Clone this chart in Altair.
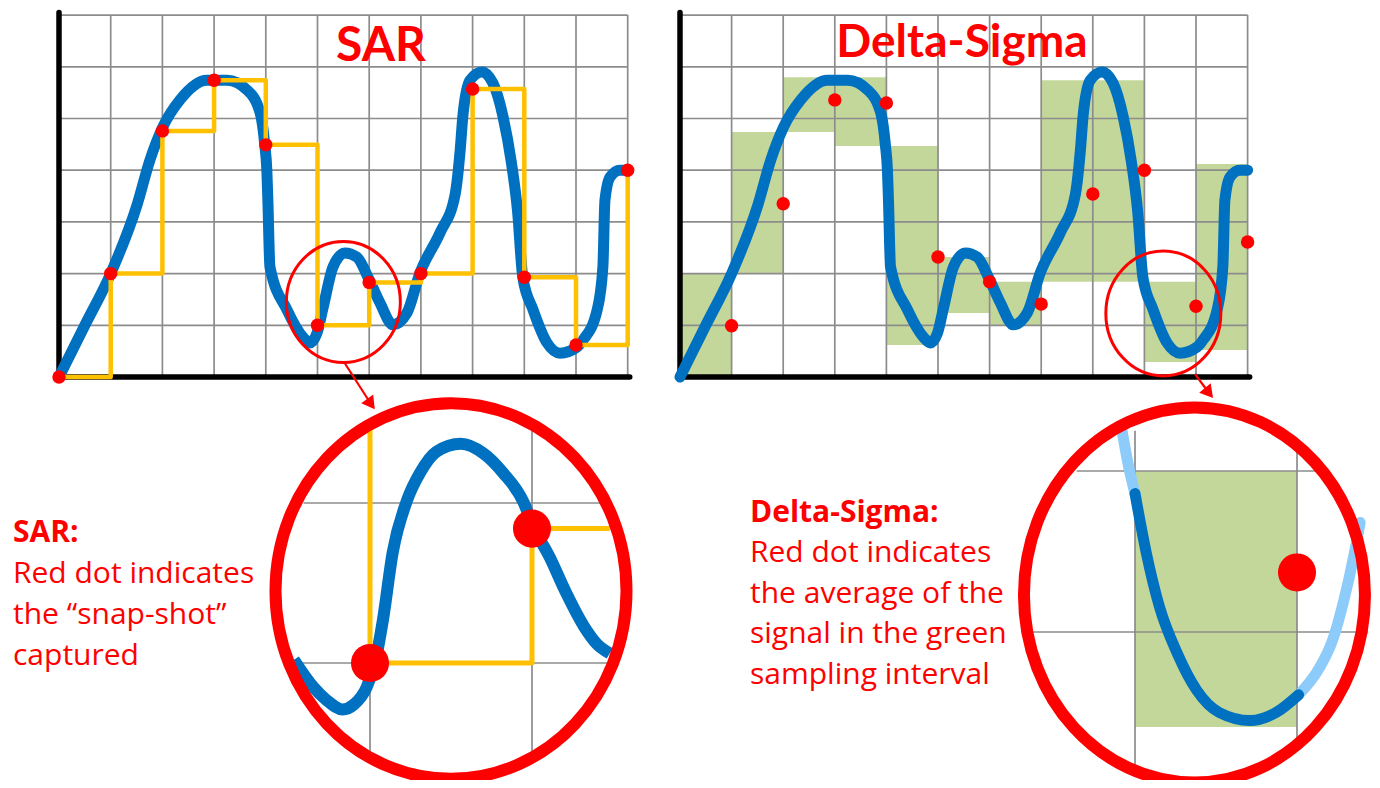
import altair as alt
import pandas as pd

# ---------------- data (grid units: one unit = one grid cell) ----------------
# analog signal, identical in both panels
sig_x = [0, 0.5, 1.0, 1.51, 1.76, 2.01, 2.34, 2.86, 3.25, 3.64, 3.89, 3.98, 4.02, 4.04, 4.08,
         4.41, 4.72, 4.85, 4.99, 5.11, 5.30, 5.53, 5.76, 6.0, 6.21, 6.46, 6.73, 6.98, 7.37,
         7.66, 7.76, 7.81, 7.95, 8.18, 8.39, 8.59, 8.75, 8.87, 8.97, 9.17, 9.44, 9.69, 10.02,
         10.14, 10.41, 10.52, 10.56, 10.66, 10.85, 11.0]
sig_y = [0, 1.0, 2.0, 3.33, 4.20, 4.84, 5.36, 5.74, 5.74, 5.55, 5.11, 4.49, 4.0, 3.42, 2.13,
         1.30, 0.77, 0.66, 0.85, 1.35, 2.13, 2.40, 2.32, 1.88, 1.43, 1.01, 1.24, 2.01, 2.79,
         3.52, 4.39, 5.03, 5.74, 5.90, 5.69, 5.03, 4.15, 3.20, 1.93, 1.30, 0.66, 0.46, 0.58,
         0.72, 1.30, 2.13, 3.42, 3.87, 4.0, 4.0]

# SAR snapshots
sar_x = list(range(12))
sar_v = [0, 2.0, 4.76, 5.74, 4.49, 1.0, 1.83, 2.0, 5.57, 1.93, 0.62, 4.0]

# Delta-Sigma interval averages (dot at end of interval) and green interval boxes
ds_x = list(range(1, 12))
ds_avg = [0.99, 3.35, 5.36, 5.30, 2.32, 1.84, 1.41, 3.54, 4.0, 1.37, 2.61]
ds_box_x = list(range(11))
ds_lo = [0, 2.0, 4.74, 4.47, 0.62, 1.24, 0.99, 1.84, 1.84, 0.29, 0.52]
ds_hi = [2.0, 4.74, 5.80, 5.80, 4.47, 2.32, 1.84, 5.74, 5.74, 1.84, 4.12]

grid_cols = list(range(12))
grid_rows = list(range(8))

# SAR magnified view
sarz_x = [4.53, 4.65, 4.73, 4.83, 4.90, 4.98, 5.03, 5.08, 5.14, 5.23, 5.31, 5.41, 5.56, 5.70,
          5.82, 5.95, 6.00, 6.11, 6.21, 6.32, 6.40, 6.48]
sarz_y = [1.02, 0.85, 0.77, 0.71, 0.74, 0.85, 1.0, 1.27, 1.69, 2.02, 2.19, 2.32, 2.37, 2.31,
          2.19, 2.00, 1.87, 1.66, 1.44, 1.23, 1.12, 1.06]
sarz_hold_x = [5, 5, 6, 6, 6.48]
sarz_hold_y = [2.46, 1.0, 1.0, 1.84, 1.84]
sarz_dot_x = [5, 6]
sarz_dot_y = [1.0, 1.84]
sarz_vgrid_x, sarz_vgrid_lo, sarz_vgrid_hi = [5, 6], [0.41, 0.43], [2.46, 2.46]
sarz_hgrid_y, sarz_hgrid_lo, sarz_hgrid_hi = [1, 2], [4.52, 4.59], [6.47, 6.42]

# Delta-Sigma magnified view
dsz_l1_x = [8.92, 8.96, 9.0]
dsz_l1_y = [2.25, 2.03, 1.86]
dsz_d_x = [9.0, 9.07, 9.15, 9.26, 9.38, 9.52, 9.71, 9.87, 10.01]
dsz_d_y = [1.86, 1.49, 1.16, 0.87, 0.64, 0.50, 0.45, 0.50, 0.61]
dsz_l2_x = [10.01, 10.14, 10.22, 10.29, 10.35, 10.39]
dsz_l2_y = [0.61, 0.78, 0.95, 1.20, 1.47, 1.68]
dsz_box = {"x": [9], "x2": [10], "lo": [0.41], "hi": [2.0]}
dsz_dot_x, dsz_dot_y = [10], [1.37]
dsz_vgrid_x, dsz_vgrid_lo, dsz_vgrid_hi = [9, 10], [0.16, 0.27], [2.25, 2.16]
dsz_hgrid_y, dsz_hgrid_lo, dsz_hgrid_hi = [1, 2], [8.37, 8.64], [10.44, 10.16]

# magnifier circles (centre in grid units)
sar_lens = (5.5, 1.45)
ds_lens = (9.367, 1.23)

# ---------------- layout / style ----------------
W, H = 1364, 772
VIEWS = {  # page px of value 0 on x, page px of value 0 on y, px per unit x, px per unit y
    "sar": (59, 377, 51.7, 51.7),
    "ds": (680, 377, 51.6, 51.7),
    "sarz": (-440, 823, 162, 160),
    "dsz": (-323, 793, 162, 161),
}
BLUE, YEL, RED, GRID, GREEN, LBLUE = "#0070C0", "#FFC000", "#FF0000", "#8C8C8C", "#C4D79B", "#8CCBFA"
TFONT = "Lato"
BFONT = "Open Sans"


def X(view, field="x"):
    ox, oy, px, py = VIEWS[view]
    return alt.X(f"{field}:Q", scale=alt.Scale(domain=[0, 1], range=[ox - 8, ox - 8 + px], nice=False, zero=False), axis=None)


def Y(view, field="y"):
    ox, oy, px, py = VIEWS[view]
    return alt.Y(f"{field}:Q", scale=alt.Scale(domain=[0, 1], range=[oy - 8, oy - 8 - py], nice=False, zero=False), axis=None)


def df(**k):
    return pd.DataFrame(k)


def ellipse_path(r):
    k = 0.5523
    return (f"M 1 0 C 1 {k*r:.4f} {k:.4f} {r:.4f} 0 {r:.4f} "
            f"C {-k:.4f} {r:.4f} -1 {k*r:.4f} -1 0 "
            f"C -1 {-k*r:.4f} {-k:.4f} {-r:.4f} 0 {-r:.4f} "
            f"C {k:.4f} {-r:.4f} 1 {-k*r:.4f} 1 0 Z")


layers = []

# green boxes
layers.append(alt.Chart(df(x=ds_box_x, x2=[v + 1 for v in ds_box_x], lo=ds_lo, hi=ds_hi)).mark_rect(color=GREEN).encode(
    x=X("ds"), x2="x2:Q", y=Y("ds", "lo"), y2="hi:Q"))
layers.append(alt.Chart(pd.DataFrame(dsz_box)).mark_rect(color=GREEN).encode(
    x=X("dsz"), x2="x2:Q", y=Y("dsz", "lo"), y2="hi:Q"))

# grids
for v in ["sar", "ds"]:
    layers.append(alt.Chart(df(x=grid_cols, lo=[0] * 12, hi=[7] * 12)).mark_rule(color=GRID, strokeWidth=1.7).encode(
        x=X(v), y=Y(v, "lo"), y2="hi:Q"))
    layers.append(alt.Chart(df(y=grid_rows, lo=[0] * 8, hi=[11] * 8)).mark_rule(color=GRID, strokeWidth=1.7).encode(
        y=Y(v), x=X(v, "lo"), x2="hi:Q"))
for v, vx, vlo, vhi, hy, hlo, hhi in [
    ("sarz", sarz_vgrid_x, sarz_vgrid_lo, sarz_vgrid_hi, sarz_hgrid_y, sarz_hgrid_lo, sarz_hgrid_hi),
    ("dsz", dsz_vgrid_x, dsz_vgrid_lo, dsz_vgrid_hi, dsz_hgrid_y, dsz_hgrid_lo, dsz_hgrid_hi)]:
    layers.append(alt.Chart(df(x=vx, lo=vlo, hi=vhi)).mark_rule(color=GRID, strokeWidth=1.7).encode(
        x=X(v), y=Y(v, "lo"), y2="hi:Q"))
    layers.append(alt.Chart(df(y=hy, lo=hlo, hi=hhi)).mark_rule(color=GRID, strokeWidth=1.7).encode(
        y=Y(v), x=X(v, "lo"), x2="hi:Q"))

# black axes
for v in ["sar", "ds"]:
    layers.append(alt.Chart(df(x=[0], lo=[0], hi=[7.05])).mark_rule(color="black", strokeWidth=5.5, strokeCap="round").encode(
        x=X(v), y=Y(v, "lo"), y2="hi:Q"))
    layers.append(alt.Chart(df(y=[0], lo=[0], hi=[11.04])).mark_rule(color="black", strokeWidth=5.5, strokeCap="round").encode(
        y=Y(v), x=X(v, "lo"), x2="hi:Q"))

# signal curves
sig = df(x=sig_x, y=sig_y)
for v in ["sar", "ds"]:
    layers.append(alt.Chart(sig).mark_line(color=BLUE, strokeWidth=11, interpolate="monotone",
                                           strokeCap="round", strokeJoin="round").encode(x=X(v), y=Y(v)))
layers.append(alt.Chart(df(x=sarz_x, y=sarz_y)).mark_line(color=BLUE, strokeWidth=12, interpolate="monotone",
                                                          strokeCap="butt").encode(x=X("sarz"), y=Y("sarz")))
for xs, ys, c in [(dsz_l1_x, dsz_l1_y, LBLUE), (dsz_l2_x, dsz_l2_y, LBLUE), (dsz_d_x, dsz_d_y, BLUE)]:
    layers.append(alt.Chart(df(x=xs, y=ys)).mark_line(color=c, strokeWidth=11, interpolate="monotone",
                                                      strokeCap="round").encode(x=X("dsz"), y=Y("dsz")))

# SAR hold (yellow)
layers.append(alt.Chart(df(x=sar_x, y=sar_v)).mark_line(color=YEL, strokeWidth=4.5, interpolate="step-after",
                                                       strokeJoin="round").encode(x=X("sar"), y=Y("sar")))
layers.append(alt.Chart(df(x=sarz_hold_x, y=sarz_hold_y, i=list(range(len(sarz_hold_x))))).mark_line(
    color=YEL, strokeWidth=5, strokeJoin="round").encode(x=X("sarz"), y=Y("sarz"), order="i:Q"))

# red dots
layers.append(alt.Chart(df(x=sar_x, y=sar_v)).mark_circle(color=RED, opacity=1, size=180).encode(x=X("sar"), y=Y("sar")))
layers.append(alt.Chart(df(x=ds_x, y=ds_avg)).mark_circle(color=RED, opacity=1, size=180).encode(x=X("ds"), y=Y("ds")))
layers.append(alt.Chart(df(x=sarz_dot_x, y=sarz_dot_y)).mark_circle(color=RED, opacity=1, size=1450).encode(x=X("sarz"), y=Y("sarz")))
layers.append(alt.Chart(df(x=dsz_dot_x, y=dsz_dot_y)).mark_circle(color=RED, opacity=1, size=1450).encode(x=X("dsz"), y=Y("dsz")))

# magnifier rings
for v, c, rx, ratio, sw in [("sar", sar_lens, 57, 1.06, 3), ("ds", ds_lens, 57.5, 1.087, 3),
                            ("sarz", sar_lens, 175.5, 1.07, 12), ("dsz", ds_lens, 170.5, 1.10, 12)]:
    layers.append(alt.Chart(df(x=[c[0]], y=[c[1]])).mark_point(
        shape=ellipse_path(ratio), size=(2 * rx) ** 2, filled=False, color=RED, strokeWidth=sw, opacity=1
    ).encode(x=X(v), y=Y(v)))

# arrows (page pixels)
for (x1, y1, x2, y2, hx, hy, ang) in [(344, 362, 371, 404, 371, 404, 143.7), (1195, 374, 1209, 393, 1209, 393, 140.7)]:
    layers.append(alt.Chart(df(a=[0])).mark_rule(color=RED, strokeWidth=2.2).encode(
        x=alt.value(x1 - 8), y=alt.value(y1 - 8), x2=alt.value(x2 - 8), y2=alt.value(y2 - 8)))
    layers.append(alt.Chart(df(a=[0])).mark_point(shape="triangle-up", filled=True, color=RED, size=220, angle=ang, opacity=1).encode(
        x=alt.value(hx - 8), y=alt.value(hy - 8)))

# texts
texts = [
    ("SAR", 381, 61, 48, "bold", "center", TFONT),
    ("Delta-Sigma", 962, 57, 46, "bold", "center", TFONT),
    ("SAR:", 13, 542, 30, "bold", "left", BFONT),
    ("Red dot indicates", 13, 583, 30, "normal", "left", BFONT),
    ("the \u201csnap-shot\u201d", 13, 624, 30, "normal", "left", BFONT),
    ("captured", 13, 665, 30, "normal", "left", BFONT),
    ("Delta-Sigma:", 750, 522, 30, "bold", "left", BFONT),
    ("Red dot indicates", 750, 562, 30, "normal", "left", BFONT),
    ("the average of the", 750, 603, 30, "normal", "left", BFONT),
    ("signal in the green", 750, 643, 30, "normal", "left", BFONT),
    ("sampling interval", 750, 684, 30, "normal", "left", BFONT),
]
for t, tx, ty, fs, fw, al, fn in texts:
    layers.append(alt.Chart(df(t=[t])).mark_text(font=fn, fontSize=fs, fontWeight=fw, color=RED, align=al,
                                                  baseline="alphabetic").encode(
        x=alt.value(tx - 8), y=alt.value(ty - 8), text="t:N"))

chart = alt.layer(*layers).resolve_scale(x="independent", y="independent").properties(
    width=W, height=H, padding=0, autosize="none"
).configure_view(stroke=None)

chart.save("out.html", embed_options={"renderer": "svg", "actions": False})
